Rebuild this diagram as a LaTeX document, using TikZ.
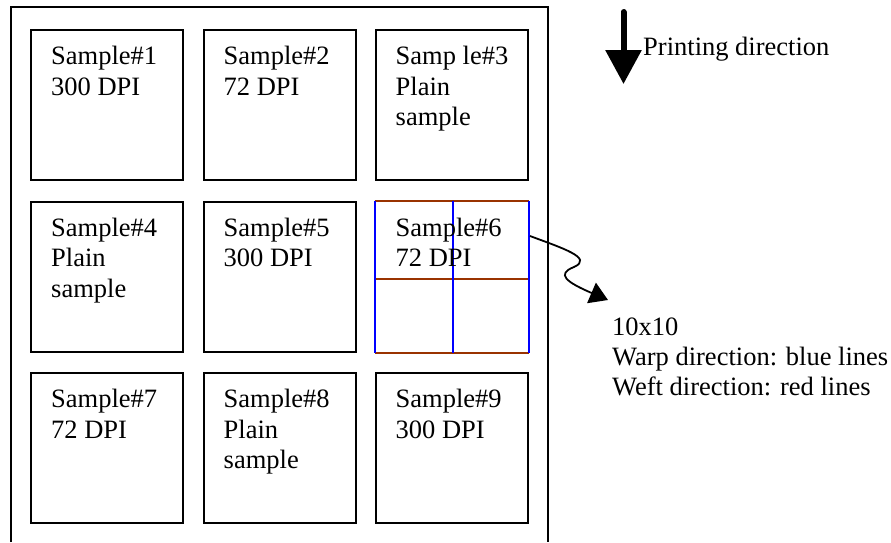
\documentclass[tikz,border=0pt]{standalone}
\usepackage{fontspec}
\setmainfont{Liberation Serif}
\usetikzlibrary{arrows.meta,calc}
\definecolor{weftred}{RGB}{153,51,0}
\definecolor{warpblue}{RGB}{0,0,255}
\newcommand{\stext}[1]{\parbox[t]{128pt}{\raggedright #1}}
\tikzset{
  samplebox/.style={draw=black, line width=2pt, minimum width=152pt, minimum height=150pt, inner sep=0pt, anchor=north west},
  gridbox/.style={samplebox, draw=none},
  sampletext/.style={anchor=base west, inner sep=0pt, font=\fontsize{26.5}{30.5}\selectfont},
  plaintext/.style={anchor=base west, inner sep=0pt, font=\fontsize{26.5}{30}\selectfont},
  frame/.style={line width=2pt},
  weft/.style={draw=weftred, line width=2pt},
  warp/.style={draw=warpblue, line width=2pt},
}
\begin{document}
\begin{tikzpicture}[x=1pt,y=-1pt]
\useasboundingbox (0,0) rectangle (891,542);
% outer sheet
\draw[frame] (11,542) -- (11,7) -- (548,7) -- (548,542);
% sample boxes
\node[samplebox] (s1) at (30,29) {};
\node[samplebox] (s2) at (202.5,29) {};
\node[samplebox] (s3) at (374.5,29) {};
\node[samplebox] (s4) at (30,200.5) {};
\node[samplebox] (s5) at (202.5,200.5) {};
\node[gridbox]   (s6) at (374.5,200.5) {};
\node[samplebox] (s7) at (30,372) {};
\node[samplebox] (s8) at (202.5,372) {};
\node[samplebox] (s9) at (374.5,372) {};
% grid in sample 6
\draw[weft] (s6.north west) -- (s6.north east);
\draw[weft] ($(s6.north west)+(0,78.5)$) -- ($(s6.north east)+(0,78.5)$);
\draw[weft] (s6.south west) -- (s6.south east);
\draw[warp] (s6.north west) -- (s6.south west);
\draw[warp] ($(s6.north west)+(78,0)$) -- ($(s6.south west)+(78,0)$);
\draw[warp] (s6.north east) -- (s6.south east);
% texts
\node[sampletext] (t1) at ($(s1.north west)+(21,35.5)$) {\stext{Sample\#1\\300 DPI}};
\node[sampletext] (t2) at ($(s2.north west)+(21,35.5)$) {\stext{Sample\#2\\72 DPI}};
\node[sampletext] (t3) at ($(s3.north west)+(21,35.5)$) {\stext{Samp le\#3\\Plain\\sample}};
\node[sampletext] (t4) at ($(s4.north west)+(21,35.5)$) {\stext{Sample\#4\\Plain\\sample}};
\node[sampletext] (t5) at ($(s5.north west)+(21,35.5)$) {\stext{Sample\#5\\300 DPI}};
\node[sampletext] (t6) at ($(s6.north west)+(21,35.5)$) {\stext{Sample\#6\\72 DPI}};
\node[sampletext] (t7) at ($(s7.north west)+(21,35.5)$) {\stext{Sample\#7\\72 DPI}};
\node[sampletext] (t8) at ($(s8.north west)+(21,35.5)$) {\stext{Sample\#8\\Plain\\sample}};
\node[sampletext] (t9) at ($(s9.north west)+(21,35.5)$) {\stext{Sample\#9\\300 DPI}};
% printing direction
\coordinate (pdtop) at (623.5,12);
\coordinate (pdtip) at (623.5,84);
\draw[line width=6pt, line cap=round, -{Triangle[length=34pt,width=35pt]}] (pdtop) -- (pdtip);
\node[plaintext] (pd) at (643,55) {Printing direction};
% legend
\node[plaintext] (legend) at (612,335) {\parbox[t]{278pt}{\raggedright 10x10\\Warp direction: blue lines\\Weft direction: red lines}};
% squiggle connector
\coordinate (sqstart) at (530,236);
\coordinate (sqend) at (608,300);
\draw[line width=1.8pt, -{Triangle[length=18pt,width=22pt]}] (sqstart) .. controls (562,248) and (594,258) .. (574,267) .. controls (556,274) and (566,282) .. (sqend);
\end{tikzpicture}
\end{document}
